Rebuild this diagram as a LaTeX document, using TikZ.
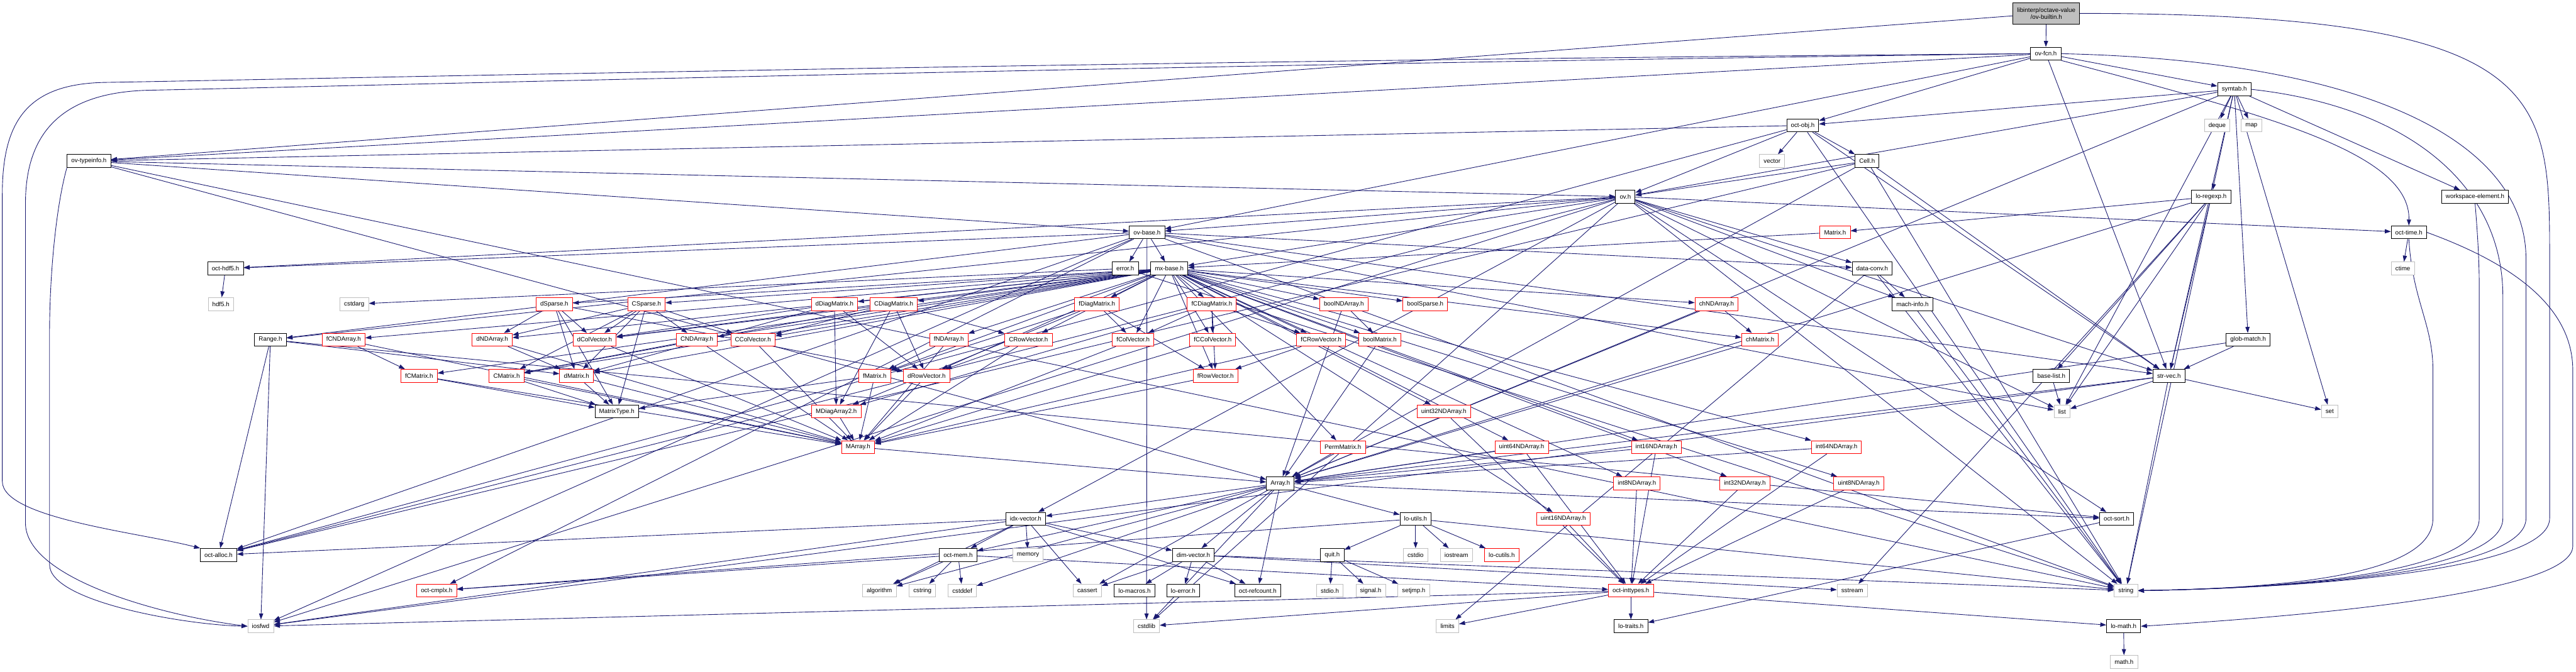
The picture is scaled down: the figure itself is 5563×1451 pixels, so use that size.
\documentclass[tikz,border=0pt]{standalone}
\usepackage{fontspec}
\setmainfont{Liberation Sans}
\usepackage{tikz}
\usetikzlibrary{arrows.meta}
\definecolor{incblue}{HTML}{191970}
\definecolor{sysgray}{HTML}{BFBFBF}
\pgfdeclarelayer{paper}
\pgfdeclarelayer{wires}
\pgfsetlayers{paper,wires,main}
\newcommand{\hdrfont}{\fontsize{13.3}{15}\selectfont}
\tikzset{
  hdr/.style={rectangle,draw=black,fill=white,line width=1.2pt,minimum height=28pt,inner xsep=9pt,inner ysep=1pt,font=\hdrfont},
  hdrred/.style={hdr,draw=red},
  hdrsys/.style={hdr,draw=sysgray},
  hdrroot/.style={hdr,fill=sysgray,minimum height=46pt,align=center},
  inc/.style={line width=1.2pt,incblue,-{Triangle[length=13pt,width=9pt]}}
}

\begin{document}
\begin{tikzpicture}[x=1pt,y=-1pt]
  \begin{pgfonlayer}{paper}
    \fill[white] (0,0) rectangle (5563,1451);
  \end{pgfonlayer}
  \useasboundingbox (0,0) rectangle (5563,1451);

  % top of the include tree
  \node[hdrroot] (root) at (4419,29) {libinterp/octave-value\\/ov-builtin.h};
  \node[hdr] (ovfcn) at (4418,116) {ov-fcn.h};
  \node[hdr] (symtab) at (4825,193) {symtab.h};
  \node[hdr] (octobj) at (3893,271) {oct-obj.h};
  \node[hdrsys] (deque) at (4788,271) {deque};
  \node[hdrsys] (map) at (4862,271) {map};
  \node[hdr] (ovtypeinfo) at (192,348) {ov-typeinfo.h};
  \node[hdrsys] (vector) at (3827,348) {vector};
  \node[hdr] (Cell) at (4032,348) {Cell.h};
  \node[hdr] (ov) at (3510,425) {ov.h};
  \node[hdr] (loregexp) at (4775,425) {lo-regexp.h};
  \node[hdr] (workspace) at (5345,425) {workspace-element.h};
  \node[hdr] (ovbase) at (2477,502) {ov-base.h};
  \node[hdrred] (Matrix) at (3963,502) {Matrix.h};
  \node[hdr] (octtime) at (5202,502) {oct-time.h};
  \node[hdr] (octhdf5) at (487,580) {oct-hdf5.h};
  \node[hdr] (error) at (2430,580) {error.h};
  \node[hdr] (mxbase) at (2525,580) {mx-base.h};
  \node[hdr] (dataconv) at (4043,580) {data-conv.h};
  \node[hdrsys] (ctime) at (5189,580) {ctime};

  % matrix headers
  \node[hdrsys] (hdf5) at (477,657) {hdf5.h};
  \node[hdrsys] (cstdarg) at (765,657) {cstdarg};
  \node[hdrred] (dSparse) at (1197,657) {dSparse.h};
  \node[hdrred] (CSparse) at (1396,657) {CSparse.h};
  \node[hdrred] (dDiag) at (1802,657) {dDiagMatrix.h};
  \node[hdrred] (CDiag) at (1930,657) {CDiagMatrix.h};
  \node[hdrred] (fDiag) at (2369,657) {fDiagMatrix.h};
  \node[hdrred] (fCDiag) at (2617,657) {fCDiagMatrix.h};
  \node[hdrred] (boolND) at (2902,657) {boolNDArray.h};
  \node[hdrred] (boolSp) at (3078,657) {boolSparse.h};
  \node[hdrred] (chND) at (3707,657) {chNDArray.h};
  \node[hdr] (machinfo) at (4130,657) {mach-info.h};

  \node[hdr] (Range) at (584,734) {Range.h};
  \node[hdrred] (fCND) at (742,734) {fCNDArray.h};
  \node[hdrred] (dND) at (1063,734) {dNDArray.h};
  \node[hdrred] (dColV) at (1284,734) {dColVector.h};
  \node[hdrred] (CND) at (1505,734) {CNDArray.h};
  \node[hdrred] (CColV) at (1626,734) {CColVector.h};
  \node[hdrred] (fND) at (2049,734) {fNDArray.h};
  \node[hdrred] (CRowV) at (2221,734) {CRowVector.h};
  \node[hdrred] (fColV) at (2447,734) {fColVector.h};
  \node[hdrred] (fCColV) at (2619,734) {fCColVector.h};
  \node[hdrred] (fCRowV) at (2853,734) {fCRowVector.h};
  \node[hdrred] (boolMat) at (2980,734) {boolMatrix.h};
  \node[hdrred] (chMat) at (3801,734) {chMatrix.h};
  \node[hdr] (globmatch) at (4855,734) {glob-match.h};

  \node[hdrred] (fCMat) at (905,812) {fCMatrix.h};
  \node[hdrred] (CMat) at (1094,812) {CMatrix.h};
  \node[hdrred] (dMat) at (1245,812) {dMatrix.h};
  \node[hdrred] (fMat) at (1889,812) {fMatrix.h};
  \node[hdrred] (dRowV) at (2001,812) {dRowVector.h};
  \node[hdrred] (fRowV) at (2625,812) {fRowVector.h};
  \node[hdr] (baselist) at (4430,812) {base-list.h};
  \node[hdr] (strvec) at (4684,812) {str-vec.h};

  \node[hdr] (MatrixType) at (1332,889) {MatrixType.h};
  \node[hdrred] (MDiag) at (1806,889) {MDiagArray2.h};
  \node[hdrred] (u32nd) at (3118,889) {uint32NDArray.h};
  \node[hdrsys] (list) at (4453,889) {list};
  \node[hdrsys] (set) at (5031,889) {set};

  \node[hdrred] (MArray) at (1853,966) {MArray.h};
  \node[hdrred] (Perm) at (2900,966) {PermMatrix.h};
  \node[hdrred] (u64nd) at (3286,966) {uint64NDArray.h};
  \node[hdrred] (i16nd) at (3577,966) {int16NDArray.h};
  \node[hdrred] (i64nd) at (3966,966) {int64NDArray.h};

  % liboctave base
  \node[hdr] (Array) at (2765,1044) {Array.h};
  \node[hdrred] (i8nd) at (3535,1044) {int8NDArray.h};
  \node[hdrred] (i32nd) at (3768,1044) {int32NDArray.h};
  \node[hdrred] (u8nd) at (4014,1044) {uint8NDArray.h};

  \node[hdr] (idxvector) at (2215,1121) {idx-vector.h};
  \node[hdr] (loutils) at (3057,1121) {lo-utils.h};
  \node[hdrred] (u16nd) at (3376,1121) {uint16NDArray.h};
  \node[hdr] (octsort) at (4571,1121) {oct-sort.h};

  \node[hdr] (octalloc) at (472,1199) {oct-alloc.h};
  \node[hdr] (octmem) at (2069,1199) {oct-mem.h};
  \node[hdrsys] (memory) at (2220,1199) {memory};
  \node[hdr] (dimvector) at (2577,1199) {dim-vector.h};
  \node[hdr] (quit) at (2877,1199) {quit.h};
  \node[hdrsys] (cstdio) at (3057,1199) {cstdio};
  \node[hdrsys] (iostream) at (3145,1199) {iostream};
  \node[hdrred] (locutils) at (3243,1199) {lo-cutils.h};

  \node[hdrred] (octcmplx) at (943,1276) {oct-cmplx.h};
  \node[hdrsys] (algorithm) at (1899,1276) {algorithm};
  \node[hdrsys] (cstring) at (1992,1276) {cstring};
  \node[hdrsys] (cstddef) at (2078,1276) {cstddef};
  \node[hdrsys] (cassert) at (2348,1276) {cassert};
  \node[hdr] (lomacros) at (2450,1276) {lo-macros.h};
  \node[hdr] (loerror) at (2555,1276) {lo-error.h};
  \node[hdr] (octrefcount) at (2716,1276) {oct-refcount.h};
  \node[hdrsys] (stdioh) at (2872,1276) {stdio.h};
  \node[hdrsys] (signalh) at (2960,1276) {signal.h};
  \node[hdrsys] (setjmph) at (3053,1276) {setjmp.h};
  \node[hdrred] (octinttypes) at (3522,1276) {oct-inttypes.h};
  \node[hdrsys] (sstream) at (4000,1276) {sstream};
  \node[hdrsys] (string) at (4591,1276) {string};

  \node[hdrsys] (iosfwd) at (563,1353) {iosfwd};
  \node[hdrsys] (cstdlib) at (2476,1353) {cstdlib};
  \node[hdrsys] (limits) at (3126,1353) {limits};
  \node[hdr] (lotraits) at (3522,1353) {lo-traits.h};
  \node[hdr] (lomath) at (4586,1353) {lo-math.h};
  \node[hdrsys] (mathh) at (4587,1430) {math.h};

  % include edges
  \begin{pgfonlayer}{wires}
  \draw[inc] (root) -- (ovfcn);
  \draw[inc] (root) -- (ovtypeinfo);
  \draw[inc] (root.east) .. controls (5506,29) and (5506,200) .. (5506,560) -- (5506,1120) .. controls (5506,1230) and (5000,1270) .. (string.east);
  \foreach \t in {symtab,octobj,ovtypeinfo,ovbase,strvec} \draw[inc] (ovfcn) -- (\t);
  \draw[inc] (ovfcn.west) .. controls (2500,130) and (700,170) .. (230,178) .. controls (60,180) and (5,260) .. (5,420) -- (5,1040) .. controls (5,1120) and (300,1150) .. (octalloc.north west);
  \draw[inc] (ovfcn.west) .. controls (2500,140) and (800,185) .. (320,195) .. controls (120,200) and (55,300) .. (55,440) -- (55,1130) .. controls (55,1250) and (350,1330) .. (iosfwd.west);
  \draw[inc] (ovfcn.east) .. controls (5100,130) and (5455,300) .. (5455,560) -- (5455,1120) .. controls (5455,1230) and (5000,1270) .. (string.east);
  \draw[inc] (ovfcn.south east) .. controls (4900,250) and (5205,330) .. (octtime.north);
  \foreach \t in {deque,map,loregexp,workspace,octobj,ov,globmatch,strvec,list,set,Array} \draw[inc] (symtab) -- (\t);
  \draw[inc] (symtab.east) .. controls (5200,230) and (5405,400) .. (5405,640) -- (5405,1120) .. controls (5405,1230) and (5000,1270) .. (string.east);
  \draw[inc] (workspace.south) .. controls (5350,500) and (5354,560) .. (5354,620) -- (5354,1120) .. controls (5354,1230) and (5000,1270) .. (string.east);
  \foreach \t in {Matrix,Array,sstream,list,string,baselist,strvec} \draw[inc] (loregexp) -- (\t);
  \draw[inc] (octtime) -- (ctime);
  \draw[inc] (octtime.south) .. controls (5210,650) and (5254,700) .. (5254,800) -- (5254,1120) .. controls (5254,1230) and (5000,1270) .. (string.east);
  \draw[inc] (octtime.east) .. controls (5400,560) and (5556,650) .. (5556,800) -- (5556,1180) .. controls (5556,1280) and (5000,1330) .. (lomath.east);
  \foreach \t in {vector,Cell,ov,octalloc,strvec,string,ovtypeinfo} \draw[inc] (octobj) -- (\t);
  \foreach \t in {Array,octalloc,strvec,ov,string} \draw[inc] (Cell) -- (\t);
  \foreach \t in {ov,ovbase,Array,string} \draw[inc] (ovtypeinfo) -- (\t);
  \draw[inc] (ovtypeinfo.south west) .. controls (120,450) and (107,600) .. (107,720) -- (107,1220) .. controls (107,1300) and (400,1350) .. (iosfwd.west);
  \foreach \t in {ovbase,mxbase,Range,dataconv,idxvector,machinfo,octalloc,octtime,strvec,octhdf5,octsort,cstdlib,iosfwd,list,string} \draw[inc] (ov) -- (\t);
  \foreach \t in {error,mxbase,Range,dataconv,strvec,octhdf5,octalloc,cstdlib,iosfwd,list,string,octcmplx} \draw[inc] (ovbase) -- (\t);
  \foreach \t in {cstdarg,string} \draw[inc] (error) -- (\t);
  \draw[inc] (Matrix) -- (mxbase);
  \foreach \t in {machinfo,limits,string} \draw[inc] (dataconv) -- (\t);
  \draw[inc] (machinfo) -- (string);
  \draw[inc] (octhdf5) -- (hdf5);
  \foreach \t in {dMat,octsort,octalloc,iosfwd} \draw[inc] (Range) -- (\t);
  \foreach \t in {dSparse,CSparse,dDiag,CDiag,fDiag,fCDiag,boolND,boolSp,chND,fCND,dND,dColV,CND,CColV,fND,CRowV,fColV,fCColV,fCRowV,boolMat,chMat,fCMat,CMat,dMat,fMat,dRowV,fRowV,u32nd,Perm,u64nd,i16nd,i64nd,i8nd,i32nd,u8nd,u16nd} \draw[inc] (mxbase) -- (\t);
  \foreach \t in {dND,dColV,dMat,MatrixType,dRowV} \draw[inc] (dSparse) -- (\t);
  \foreach \t in {dND,CND,dColV,CColV,CMat,dMat,MatrixType} \draw[inc] (CSparse) -- (\t);
  \foreach \t in {dColV,dRowV,dMat,MDiag} \draw[inc] (dDiag) -- (\t);
  \foreach \t in {CColV,CRowV,dRowV,dColV,CMat,MDiag} \draw[inc] (CDiag) -- (\t);
  \foreach \t in {fColV,fRowV,fMat,MDiag} \draw[inc] (fDiag) -- (\t);
  \foreach \t in {fColV,fCColV,fRowV,fCRowV,MDiag} \draw[inc] (fCDiag) -- (\t);
  \foreach \s/\t in {fCND/fCMat,dND/dMat,CND/CMat,fND/fMat,CRowV/dRowV,fCRowV/fRowV,boolND/boolMat,chND/chMat} \draw[inc] (\s) -- (\t);
  \foreach \s in {fCND,dND,dColV,CND,CColV,fND,CRowV,fColV,fCColV,fCRowV,fCMat,CMat,dMat,fMat,dRowV,fRowV,MDiag} \draw[inc] (\s) -- (MArray);
  \foreach \s in {fCMat,CMat,dMat,fMat} \draw[inc] (\s) -- (MatrixType);
  \foreach \s in {MArray,Perm,boolND,chND,boolMat,chMat,u64nd,i16nd,i64nd,strvec,globmatch} \draw[inc] (\s) -- (Array);
  \foreach \s in {u32nd,u64nd,i16nd,i64nd,i8nd,i32nd,u8nd,u16nd} \draw[inc] (\s) -- (octinttypes);
  \foreach \t in {idxvector,octmem,algorithm,cstddef,cassert,dimvector,octrefcount,loutils,octsort,cstdlib} \draw[inc] (Array) -- (\t);
  \foreach \t in {cassert,memory,algorithm,octmem,dimvector,octrefcount,octalloc,iosfwd} \draw[inc] (idxvector) -- (\t);
  \foreach \t in {algorithm,cstring,cstddef,octcmplx,octinttypes} \draw[inc] (octmem) -- (\t);
  \foreach \t in {cassert,lomacros,loerror,octrefcount,sstream,string} \draw[inc] (dimvector) -- (\t);
  \foreach \t in {quit,cstdio,iostream,locutils,octcmplx,string} \draw[inc] (loutils) -- (\t);
  \foreach \t in {stdioh,signalh,setjmph} \draw[inc] (quit) -- (\t);
  \foreach \t in {lotraits,limits,iosfwd,cstdlib,lomath} \draw[inc] (octinttypes) -- (\t);
  \draw[inc] (octsort) -- (lotraits);
  \draw[inc] (lomath) -- (mathh);
  \foreach \t in {iosfwd,list,set,string} \draw[inc] (strvec) -- (\t);
  \draw[inc] (globmatch) -- (strvec);
  \draw[inc] (baselist) -- (list);
  \end{pgfonlayer}
\end{tikzpicture}
\end{document}
